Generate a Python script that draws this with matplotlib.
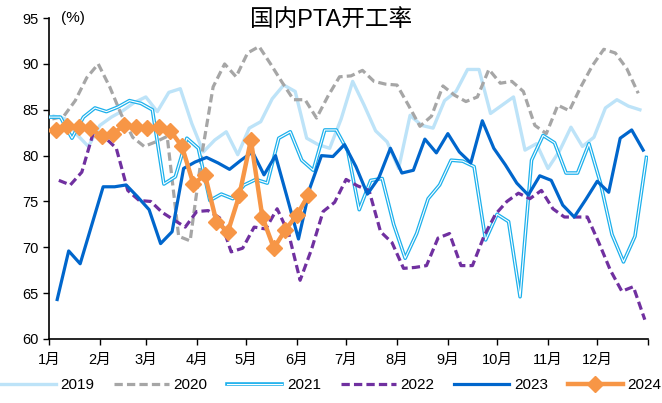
import matplotlib
matplotlib.use("Agg")
import matplotlib.pyplot as plt
from matplotlib.lines import Line2D
from matplotlib.legend_handler import HandlerTuple
import numpy as np

plt.rcParams['font.family'] = ['Liberation Sans', 'Noto Sans CJK SC', 'DejaVu Sans']

# 周度开工率 (%), 每年第一个周五起
start_day = {'2019': 3, '2020': 2, '2021': 0, '2022': 6, '2023': 5, '2024': 4}

y2019 = [84.3, 84.0, 82.3, 81.0, 83.3, 84.2, 84.9, 85.8, 86.4, 84.8, 86.9, 87.3,
         83.5, 80.4, 81.7, 82.6, 80.1, 83.0, 83.7, 86.2, 87.7, 87.0, 81.9, 81.2,
         80.8, 84.0, 88.1, 85.5, 82.7, 81.5, 78.6, 84.4, 83.3, 83.0, 86.0, 87.0,
         89.4, 89.4, 84.6, 85.5, 86.4, 80.6, 81.3, 78.6, 80.5, 83.1, 81.0, 82.0,
         85.2, 86.1, 85.4, 85.0]
y2020 = [84.0, 84.3, 86.0, 88.5, 90.0, 87.5, 84.5, 82.0, 81.0, 81.5, 82.1, 71.2,
         70.7, 80.0, 87.5, 90.0, 88.6, 91.2, 91.9, 90.0, 88.0, 86.1, 86.1, 84.1,
         86.5, 88.6, 88.7, 89.3, 88.1, 87.8, 87.7, 85.5, 83.2, 84.3, 87.6, 86.6,
         85.9, 86.4, 89.4, 87.9, 88.1, 87.0, 83.3, 82.4, 85.5, 84.9, 87.5, 89.8,
         91.6, 91.2, 89.5, 86.8]
y2021 = [84.2, 84.2, 81.9, 84.2, 85.2, 84.8, 85.3, 86.0, 85.7, 85.0, 76.9, 77.7,
         81.9, 80.8, 75.1, 75.8, 75.3, 76.8, 77.4, 77.0, 81.9, 82.6, 79.5, 78.4,
         82.8, 82.8, 80.5, 74.1, 77.3, 77.5, 72.5, 68.8, 71.5, 75.3, 76.8, 79.5,
         79.4, 78.8, 70.8, 73.6, 72.8, 64.6, 79.5, 82.2, 81.4, 78.1, 78.1, 81.3,
         77.0, 71.4, 68.4, 71.2, 79.8]
y2022 = [77.3, 76.8, 78.2, 82.5, 82.0, 80.8, 76.2, 75.1, 75.0, 73.8, 73.0, 72.2,
         73.9, 74.0, 73.2, 69.5, 69.9, 72.2, 72.0, 74.2, 71.5, 66.4, 69.8, 73.9,
         74.9, 77.4, 76.7, 76.2, 71.7, 70.5, 67.7, 67.8, 68.0, 71.0, 71.5, 68.0,
         68.0, 71.2, 73.6, 75.0, 75.9, 75.3, 76.2, 74.2, 73.3, 73.3, 73.3, 70.5,
         67.5, 65.2, 65.7, 62.1]
y2023 = [64.3, 69.6, 68.2, 72.4, 76.6, 76.6, 76.8, 75.5, 74.1, 70.4, 71.7, 78.6,
         79.3, 79.8, 79.2, 78.5, 79.5, 80.4, 77.9, 80.0, 75.5, 70.9, 76.5, 80.0,
         79.9, 81.2, 78.8, 75.8, 77.6, 80.8, 78.1, 78.4, 81.8, 80.3, 82.4, 80.4,
         79.2, 83.8, 80.8, 79.0, 77.0, 75.7, 77.8, 77.3, 74.6, 73.3, 75.2, 77.2,
         76.0, 81.9, 82.8, 80.6]
y2024 = [82.8, 83.2, 83.1, 83.0, 82.1, 82.4, 83.3, 83.1, 83.0, 83.1, 82.7, 81.0,
         76.9, 77.9, 72.8, 71.7, 75.7, 81.7, 73.3, 69.9, 71.9, 73.5, 75.7]

month_start = [0, 31, 59, 90, 120, 151, 181, 212, 243, 273, 304, 334, 365]
month_labels = [f'{m}月' for m in range(1, 13)]

DASH = (0, (2.6, 1.3))


def days(year, vals):
    return start_day[year] + 7 * np.arange(len(vals))


fig = plt.figure(figsize=(6.62, 4.03), dpi=100)
ax = fig.add_axes([0.074, 0.159, 0.905, 0.796])

ax.plot(days('2019', y2019), y2019, color='#BDE3F8', lw=2.4, zorder=2)
ax.plot(days('2020', y2020), y2020, color='#A6A6A6', lw=2.3, ls=DASH, zorder=2)
ax.plot(days('2021', y2021), y2021, color='#1CB0EC', lw=2.6, zorder=3)
ax.plot(days('2021', y2021), y2021, color='white', lw=0.8, zorder=3)
ax.plot(days('2022', y2022), y2022, color='#7030A0', lw=2.3, ls=DASH, zorder=4)
ax.plot(days('2023', y2023), y2023, color='#0066CC', lw=2.3, zorder=5)
ax.plot(days('2024', y2024), y2024, color='#F79646', lw=3.2, marker='D', ms=8.5,
        mec='#F79646', zorder=6)

ax.set_xlim(0, 365)
ax.set_ylim(60, 95)
ax.set_yticks(np.arange(60, 96, 5))
ax.set_xticks(month_start)
ax.set_xticklabels(month_labels + [''])
ax.tick_params(axis='both', direction='out', length=4, width=1, labelsize=10.5)
ax.tick_params(axis='x', pad=6)
for s in ['top', 'right']:
    ax.spines[s].set_visible(False)
for s in ['left', 'bottom']:
    ax.spines[s].set_linewidth(1.2)

ax.text(0.02, 1.0, '(%)', transform=ax.transAxes, fontsize=11, va='center')
fig.text(0.5, 0.948, '国内PTA开工率', fontsize=17, ha='center', va='center',
         family=['Liberation Sans', 'Noto Sans CJK SC'])

handles = [
    Line2D([], [], color='#BDE3F8', lw=2.4),
    Line2D([], [], color='#A6A6A6', lw=2.3, ls=DASH),
    (Line2D([], [], color='#1CB0EC', lw=2.6), Line2D([], [], color='white', lw=0.8)),
    Line2D([], [], color='#7030A0', lw=2.3, ls=DASH),
    Line2D([], [], color='#0066CC', lw=2.3),
    Line2D([], [], color='#F79646', lw=3.2, marker='D', ms=8),
]
fig.legend(handles, ['2019', '2020', '2021', '2022', '2023', '2024'],
           handler_map={tuple: HandlerTuple(ndivide=1)},
           loc='center', bbox_to_anchor=(0.5, 0.045), ncol=6, frameon=False,
           fontsize=11, handlelength=3.6, handletextpad=0.3, columnspacing=1.3,
           numpoints=1)

fig.savefig('out.png', dpi=100)
